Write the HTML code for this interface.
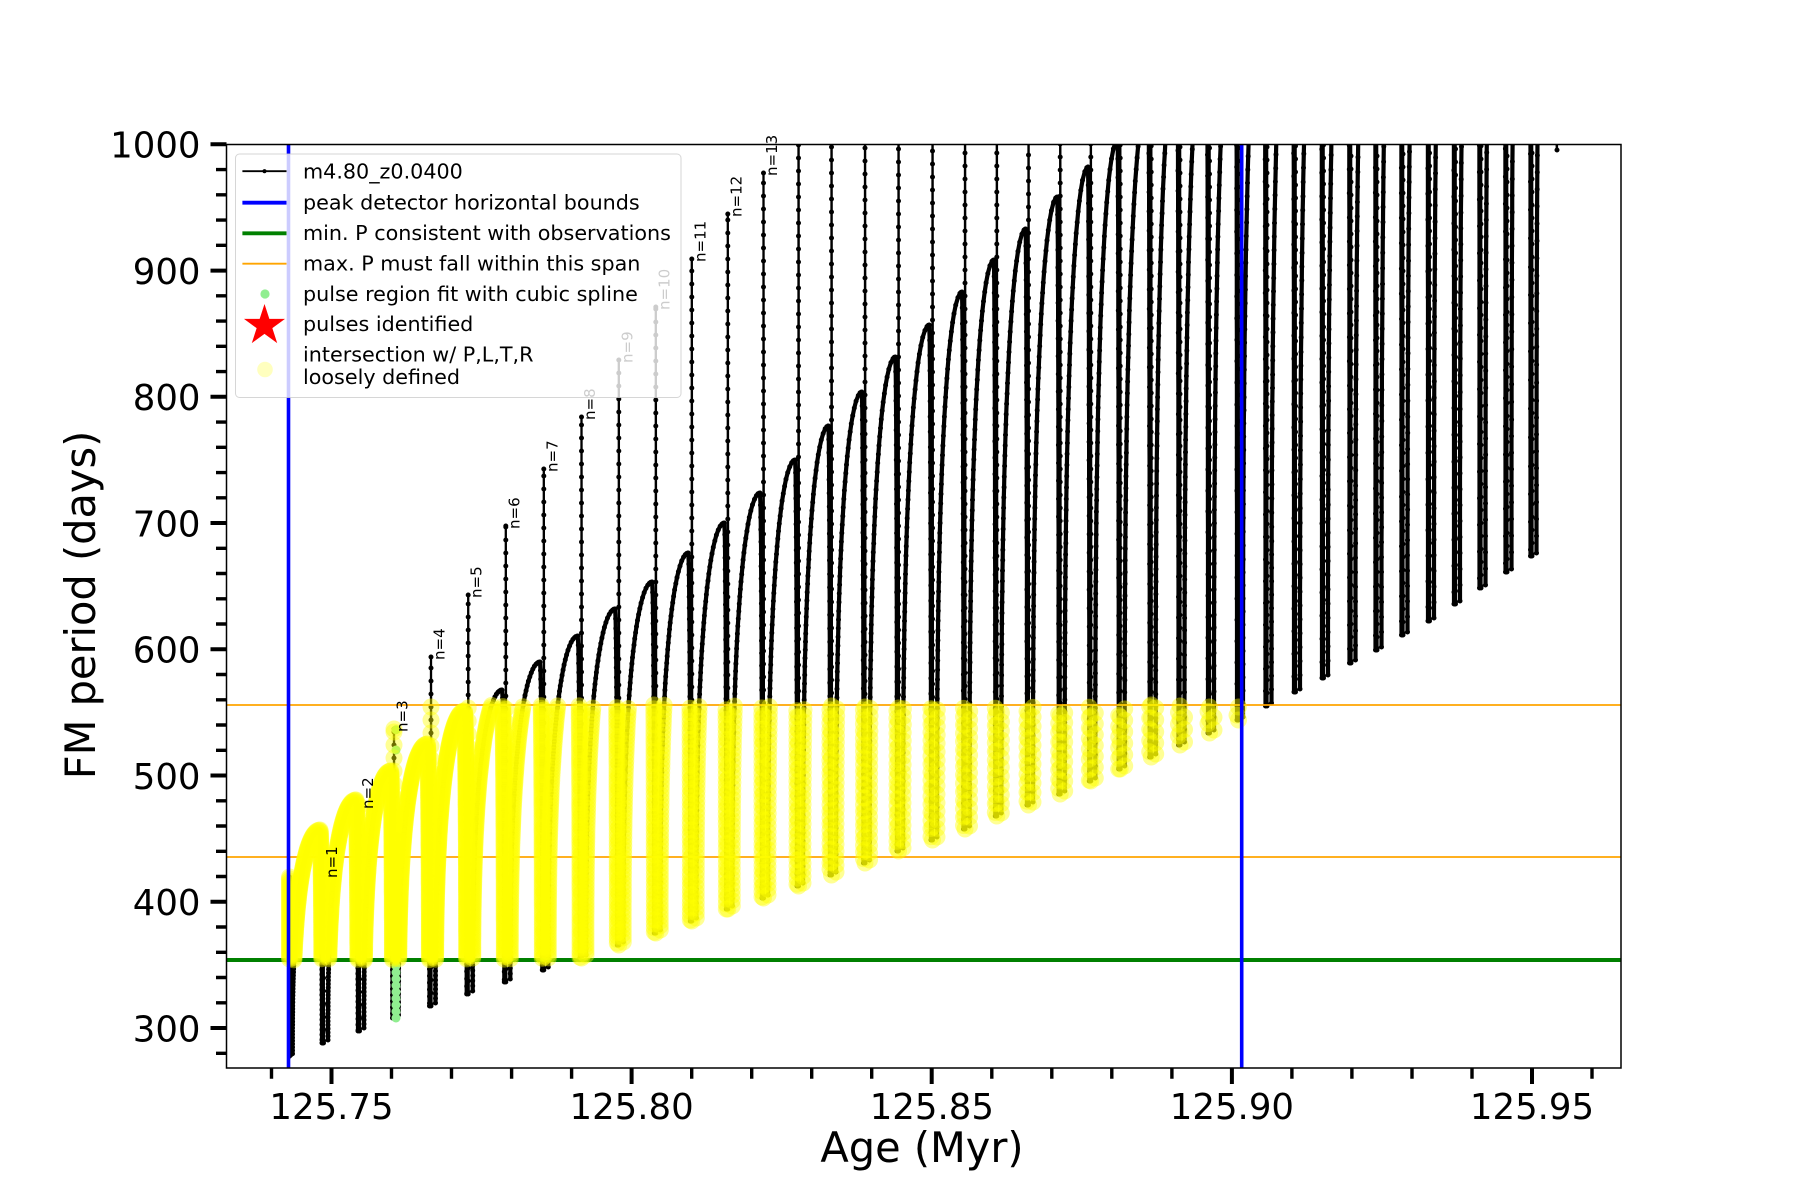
<!DOCTYPE html>
<html><head><meta charset="utf-8">
<style>
html,body{margin:0;padding:0;background:#fff;}
svg{display:block;}
text{font-family:"DejaVu Sans","Liberation Sans",sans-serif;fill:#000;}
</style></head>
<body>
<svg id="s" width="1800" height="1200" viewBox="0 0 1800 1200" xmlns="http://www.w3.org/2000/svg">
<rect width="1800" height="1200" fill="#fff"/>
<defs><clipPath id="ax"><rect x="226.5" y="144.5" width="1394.5" height="923.5"/></clipPath></defs>
<g clip-path="url(#ax)">
  <g id="blk"></g>
  <line x1="226.5" y1="960" x2="1621" y2="960" stroke="#008000" stroke-width="4"/>
  <line x1="226.5" y1="705" x2="1621" y2="705" stroke="#ffa500" stroke-width="1.8"/>
  <line x1="226.5" y1="857" x2="1621" y2="857" stroke="#ffa500" stroke-width="1.8"/>
  <g id="grn"></g>
  <g id="yel"></g>
  <line x1="288.5" y1="144.5" x2="288.5" y2="1068" stroke="#0000ff" stroke-width="3.6"/>
  <line x1="1241.7" y1="144.5" x2="1241.7" y2="1068" stroke="#0000ff" stroke-width="3.6"/>
</g>
<g id="ticks"></g>
<rect x="226.5" y="144.5" width="1394.5" height="923.5" fill="none" stroke="#000" stroke-width="1.5"/>

<g font-size="35.5" text-anchor="end">
<text x="200.5" y="157.6">1000</text>
<text x="200.5" y="283.9">900</text>
<text x="200.5" y="410.1">800</text>
<text x="200.5" y="536.4">700</text>
<text x="200.5" y="662.6">600</text>
<text x="200.5" y="788.9">500</text>
<text x="200.5" y="915.1">400</text>
<text x="200.5" y="1041.4">300</text>
</g>
<g font-size="35.5" text-anchor="middle">
<text x="331.5" y="1119">125.75</text>
<text x="631.6" y="1119">125.80</text>
<text x="931.8" y="1119">125.85</text>
<text x="1231.9" y="1119">125.90</text>
<text x="1532" y="1119">125.95</text>
</g>
<text x="922" y="1162" font-size="41.5" text-anchor="middle">Age (Myr)</text>
<text transform="translate(95,605) rotate(-90)" font-size="41.5" text-anchor="middle">FM period (days)</text>

<g font-size="15">
<text transform="translate(337,878) rotate(-90)">n=1</text>
<text transform="translate(373,809) rotate(-90)">n=2</text>
<text transform="translate(407.5,732) rotate(-90)">n=3</text>
<text transform="translate(444.5,660) rotate(-90)">n=4</text>
<text transform="translate(481.7,598) rotate(-90)">n=5</text>
<text transform="translate(519.3,529) rotate(-90)">n=6</text>
<text transform="translate(557.3,472) rotate(-90)">n=7</text>
<text transform="translate(595,420) rotate(-90)">n=8</text>
<text transform="translate(632.3,363) rotate(-90)">n=9</text>
<text transform="translate(669.3,310) rotate(-90)">n=10</text>
<text transform="translate(705.3,262) rotate(-90)">n=11</text>
<text transform="translate(741.3,217) rotate(-90)">n=12</text>
<text transform="translate(777,176) rotate(-90)">n=13</text>
</g>

<g>
<rect x="235.5" y="154" width="445.5" height="243.5" rx="4" ry="4" fill="#fff" fill-opacity="0.8" stroke="#cccccc" stroke-opacity="0.8" stroke-width="1"/>
<line x1="242.4" y1="171.2" x2="286.5" y2="171.2" stroke="#000" stroke-width="1.8"/>
<circle cx="264.5" cy="171.2" r="2.1" fill="#000"/>
<line x1="242.4" y1="202.7" x2="286.5" y2="202.7" stroke="#0000ff" stroke-width="3.8"/>
<line x1="242.4" y1="233.3" x2="286.5" y2="233.3" stroke="#008000" stroke-width="3.8"/>
<line x1="242.4" y1="263.7" x2="286.5" y2="263.7" stroke="#ffa500" stroke-width="1.8"/>
<circle cx="265" cy="294" r="4.6" fill="#90ee90"/>
<polygon points="264.5,304 269.35,318.93 285.04,318.93 272.35,328.15 277.2,343.07 264.5,333.85 251.8,343.07 256.65,328.15 243.96,318.93 259.65,318.93" fill="#ff0000"/>
<circle cx="265" cy="369.5" r="7.8" fill="#ffff00" fill-opacity="0.25"/>
<g font-size="20.7">
<text x="303" y="178.3">m4.80_z0.0400</text>
<text x="303" y="209.5">peak detector horizontal bounds</text>
<text x="303" y="240">min. P consistent with observations</text>
<text x="303" y="270.5">max. P must fall within this span</text>
<text x="303" y="301">pulse region fit with cubic spline</text>
<text x="303" y="331">pulses identified</text>
<text x="303" y="361.7">intersection w/ P,L,T,R</text>
<text x="303" y="384">loosely defined</text>
</g>
</g>
</svg>
<script>
(function(){
var X=[289.5,325,361,395.5,432.5,469.7,507.3,545.3,583,620.3,657.3,693.3,729.3,765,800,833,866.5,900,934,966.5,998.3,1030,1061.7,1092.3,1121.7,1152.7,1181.5,1211,1240,1268.5,1297,1325,1352.5,1378.5,1404.5,1431,1457,1482.5,1508.5,1533.5,1559];
var MIN=[1056.7,1043,1031,1018,1006,994,982,970,958,945,933,921,909,898,886,875,863,851,840,829,816,805,794,781,769,757,745,733,720,706,692,678,663,650,635,621,604,588,572,556];
var PEAK=[0,875,806,729,657,595,526,469,417,360,307,259,214,173];
var T=[0,830,800,771,744,711,690,662,636,609,582,553,523,493,460,426,392,357,325,292,260,229,197,167,140,95,50,10,-25,-60,-95,-130,-165,-200,-235,-270,-305,-340,-375,-410,-445];
var arcS=[],spkS=[],M=[],YP=[];
function mk(x,y){if(y>136&&y<1075)M.push([x,y]);}
function samp(fx,fy,dsf,sy){
  var N=1200,px=fx(0),py=fy(0),acc=0,accY=0,seg=[[px,py]];mk(px,py);
  YP.push([px,py]);
  for(var i=1;i<=N;i++){
    var t=i/N,x=fx(t),y=fy(t),dx=x-px,dy=y-py,l=Math.sqrt(dx*dx+dy*dy);
    acc+=l;accY+=l;var s=l>0?Math.abs(dy)/l:0;
    if(accY>=sy){YP.push([x,y]);accY=0;}
    if(acc>=dsf(s)||i===N){seg.push([x,y]);mk(x,y);acc=0;}
    px=x;py=y;
  }
  arcS.push(seg);
}
var H=Math.PI/2;
var st=[];
for(var y0=877;y0<1056.7;y0+=2){st.push([289.5,y0]);mk(289.5,y0);YP.push([289.5,y0]);}
st.push([289.5,1056.7]);st.push([292.5,1053.7]);
arcS.push(st);
for(var k=1;k<=40;k++){
  (function(k){
  var xa=X[k-1]+3,ya=MIN[k-1]-3,xt=X[k-1]+0.86*(X[k]-X[k-1]),yt=T[k];
  var ca=1.5+0.35*k,cd=3+0.6*k;
  var sy=k<=5?1.6:1.6+0.45*(k-5);
  samp(function(t){var sn=Math.sin(t*H);return xa+(xt-xa)*(1-Math.sqrt(Math.max(0,1-Math.pow(sn,2.63))));},
       function(t){return ya-(ya-yt)*Math.sin(t*H);},
       function(s){return 1.3+ca*s*s*s*s;},sy);
  if(k===40)return;
  var xb=X[k]-3,yb=MIN[k];
  samp(function(t){return xt+(xb-xt)*Math.sin(t*H);},function(t){return yb-(yb-yt)*Math.cos(t*H);},function(s){return 1.3+cd*s*s*s*s;},sy);
  var pk=k<=13?PEAK[k]:-60;
  var xs=X[k]-1.5;
  var seg=[[xb,yb],[xs,yb]];
  for(var y=yb;y>pk;y-=13){seg.push([xs,y]);mk(xs,y);YP.push([xs,y]);}
  seg.push([xs,pk]);mk(xs,pk);YP.push([xs,pk]);
  seg.push([X[k]-1,yb-2]);seg.push([X[k]+3,yb-3]);
  spkS.push(seg);
  })(k);
}
function pd(segs){return segs.map(function(sg){return 'M'+sg.map(function(p){return p[0].toFixed(1)+' '+p[1].toFixed(1);}).join('L');}).join('');}
var r=2.5,md='';
M.forEach(function(p){md+='M'+(p[0]-r).toFixed(1)+' '+p[1].toFixed(1)+'a'+r+' '+r+' 0 1 0 '+(2*r)+' 0a'+r+' '+r+' 0 1 0 '+(-2*r)+' 0';});
md+='M'+(1557-r)+' 150a'+r+' '+r+' 0 1 0 '+(2*r)+' 0a'+r+' '+r+' 0 1 0 '+(-2*r)+' 0';
document.getElementById('blk').innerHTML=
 '<path d="'+pd(arcS)+'" fill="none" stroke="#000" stroke-width="4.2" stroke-linejoin="round" stroke-linecap="round"/>'+
 '<path d="'+pd(spkS)+'" fill="none" stroke="#000" stroke-width="2.3" stroke-linejoin="round"/>'+
 '<path d="M1556.5 136L1557 151" fill="none" stroke="#000" stroke-width="2.5"/>'+
 '<path d="'+md+'" fill="#000"/>';
var g='';
for(var yy=1018;yy>=830;yy-=6.5)g+='<circle cx="396" cy="'+yy.toFixed(1)+'" r="4.5" fill="#90ee90"/>';
g+='<circle cx="396" cy="750" r="4.5" fill="#90ee90"/><circle cx="396" cy="729.7" r="4.5" fill="#90ee90"/>';
document.getElementById('grn').innerHTML=g;
var ys='';
YP.forEach(function(p){if(p[1]>=705&&p[1]<=960&&p[0]>=288&&p[0]<=1242)ys+='<circle cx="'+p[0].toFixed(1)+'" cy="'+p[1].toFixed(1)+'" r="8.5"/>';});
document.getElementById('yel').innerHTML='<g fill="#ffff00" fill-opacity="0.42">'+ys+'</g>';
var maj='',min='';
function XT(t){return 331.5+(t-125.75)*6002.5;}
for(var i=-1;i<=21;i++){var x=XT(125.75+i*0.01);if(x<226.5||x>1621)continue;if(i%5===0)maj+='M'+x.toFixed(1)+' 1068V1084';else min+='M'+x.toFixed(1)+' 1068V1078.7';}
function Y(v){return 144.3+(1000-v)*1.2625;}
for(var v=280;v<=1000;v+=20){var yv=Y(v).toFixed(1);if(v%100===0)maj+='M210.5 '+yv+'H226.5';else min+='M216 '+yv+'H226.5';}
document.getElementById('ticks').innerHTML='<path d="'+maj+'" stroke="#000" stroke-width="4" fill="none"/><path d="'+min+'" stroke="#000" stroke-width="3.4" fill="none"/>';
})();
</script>
</body></html>
